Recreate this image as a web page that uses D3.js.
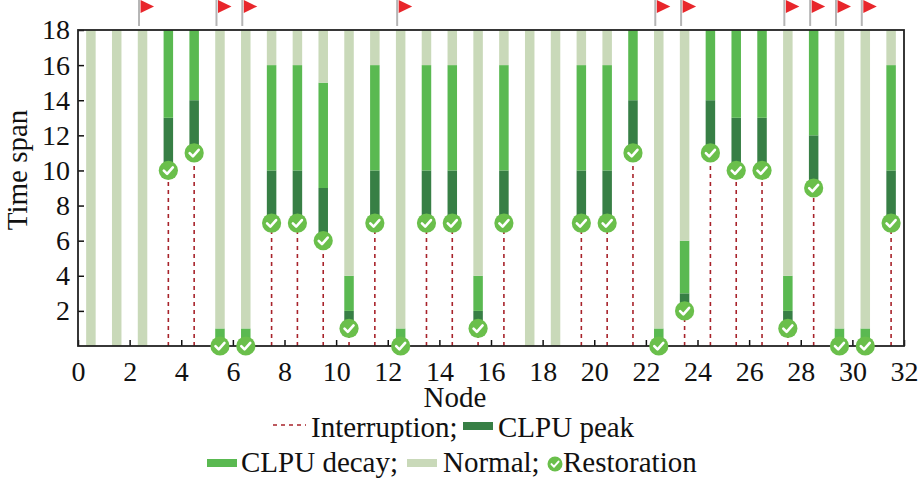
<!DOCTYPE html>
<html>
<head>
<meta charset="utf-8">
<script src="https://cdn.jsdelivr.net/npm/d3@7"></script>
<style>
  body { margin: 0; background: #fff; }
  svg text { font-family: "Liberation Serif", "Times New Roman", serif; fill: #111; }
</style>
</head>
<body>
<div id="chart"></div>
<script>
const width = 921,
    height = 483,
    margin = ({ top: 30, right: 17, bottom: 137, left: 78 });

// node ids and the time of each stage (null = node never interrupted)
const nodes = [1, 2, 3, 4, 5, 6, 7, 8, 9, 10, 11, 12, 13, 14, 15, 16,
               17, 18, 19, 20, 21, 22, 23, 24, 25, 26, 27, 28, 29, 30, 31, 32];
const restoreAt = [null, null, null, 10, 11, 0, 0, 7, 7, 6, 1, 7, 0, 7, 7, 1,
                   7, null, null, 7, 7, 11, 0, 2, 11, 10, 10, 1, 9, 0, 0, 7];
const peakEnd   = [null, null, null, 13, 14, 0, 0, 10, 10, 9, 2, 10, 0, 10, 10, 2,
                   10, null, null, 10, 10, 14, 0, 3, 14, 13, 13, 2, 12, 0, 0, 10];
const decayEnd  = [null, null, null, 18, 18, 1, 1, 16, 16, 15, 4, 16, 1, 16, 16, 4,
                   16, null, null, 16, 16, 18, 1, 6, 18, 18, 18, 4, 18, 1, 1, 16];
const flaggedNodes = [3, 6, 7, 13, 23, 24, 28, 29, 30, 31];
const xTicks = [0, 2, 4, 6, 8, 10, 12, 14, 16, 18, 20, 22, 24, 26, 28, 30, 32];
const yTicks = [2, 4, 6, 8, 10, 12, 14, 16, 18];
const maxSpan = 18;

const colors = {
    normal: "#c9d9b9",
    decay: "#5ab951",
    peak: "#377f45",
    restore: "#6abf4b",
    cut: "#a8232b"
};

const svg = d3.select("#chart")
    .append("svg")
    .attr("width", width)
    .attr("height", height);

let x = d3.scaleLinear()
    .domain([0, 32])
    .range([margin.left, width - margin.right]);

let y = d3.scaleLinear()
    .domain([0, maxSpan])
    .range([height - margin.bottom, margin.top]);

const barW = 9.5;

// build stacked segments per node
let segs = [];
nodes.forEach((n, i) => {
    let r = restoreAt[i];
    if (r === null) {
        segs.push({ n: n, y0: 0, y1: maxSpan, kind: "normal" });
        return;
    }
    segs.push({ n: n, y0: r, y1: peakEnd[i], kind: "peak" });
    segs.push({ n: n, y0: peakEnd[i], y1: decayEnd[i], kind: "decay" });
    if (decayEnd[i] < maxSpan) segs.push({ n: n, y0: decayEnd[i], y1: maxSpan, kind: "normal" });
});

svg.append("g")
    .selectAll("rect")
    .data(segs.filter(d => d.y1 > d.y0))
    .join("rect")
    .attr("x", d => x(d.n - 0.5) - barW / 2)
    .attr("width", barW)
    .attr("y", d => y(d.y1))
    .attr("height", d => y(d.y0) - y(d.y1))
    .attr("fill", d => colors[d.kind]);

// interruption lines
let restored = nodes.map((n, i) => ({ n: n, r: restoreAt[i] })).filter(d => d.r !== null);

svg.append("g")
    .selectAll("line")
    .data(restored.filter(d => d.r > 0))
    .join("line")
    .attr("x1", d => x(d.n - 0.5))
    .attr("x2", d => x(d.n - 0.5))
    .attr("y1", d => y(0))
    .attr("y2", d => y(d.r))
    .attr("stroke", colors.cut)
    .attr("stroke-width", 1.6)
    .attr("stroke-dasharray", "4,4");

// axes
svg.append("g")
    .attr("transform", `translate(0,${y(0)})`)
    .call(d3.axisBottom(x).tickValues(xTicks).tickSize(-6).tickPadding(15).tickSizeOuter(0))
    .call(g => g.select(".domain").remove())
    .call(g => g.selectAll("text").style("font-size", "28px"))
    .call(g => g.selectAll("line").attr("stroke", "#111").attr("stroke-width", 1.5));

svg.append("g")
    .attr("transform", `translate(${margin.left},0)`)
    .call(d3.axisLeft(y).tickValues(yTicks).tickSize(-6).tickPadding(8).tickSizeOuter(0))
    .call(g => g.select(".domain").remove())
    .call(g => g.selectAll("text").style("font-size", "28px"))
    .call(g => g.selectAll("line").attr("stroke", "#111").attr("stroke-width", 1.5));

svg.append("rect")
    .attr("x", x(0))
    .attr("y", y(maxSpan))
    .attr("width", x(32) - x(0))
    .attr("height", y(0) - y(maxSpan))
    .attr("fill", "none")
    .attr("stroke", "#222")
    .attr("stroke-width", 1.8);

// restoration markers
function checkMark(g, r) {
    g.append("circle").attr("r", r).attr("fill", colors.restore);
    g.append("path")
        .attr("d", `M${-r * 0.47},${r * 0.02} L${-r * 0.13},${r * 0.36} L${r * 0.47},${-r * 0.32}`)
        .attr("fill", "none")
        .attr("stroke", "#fff")
        .attr("stroke-width", r * 0.27)
        .attr("stroke-linecap", "round")
        .attr("stroke-linejoin", "round");
}

svg.append("g")
    .selectAll("g")
    .data(restored)
    .join("g")
    .attr("transform", d => `translate(${x(d.n - 0.5)},${y(d.r)})`)
    .each(function() { checkMark(d3.select(this), 9.6); });

// flags above the frame
let flags = svg.append("g")
    .selectAll("g")
    .data(flaggedNodes)
    .join("g")
    .attr("transform", d => `translate(${x(d - 0.5) - 3.5},0)`);
flags.append("line")
    .attr("x1", 0).attr("x2", 0)
    .attr("y1", 0).attr("y2", 26)
    .attr("stroke", "#b5b5b5")
    .attr("stroke-width", 2);
flags.append("path")
    .attr("d", "M1.5,0 L1.5,13 L15,6.5 Z")
    .attr("fill", "#e8262b");

// axis titles
svg.append("text")
    .attr("x", 455)
    .attr("y", 407)
    .attr("text-anchor", "middle")
    .style("font-size", "29px")
    .text("Node");

svg.append("text")
    .attr("transform", "rotate(-90)")
    .attr("x", -170)
    .attr("y", 27)
    .attr("text-anchor", "middle")
    .style("font-size", "29px")
    .text("Time span");

// legend
let leg = svg.append("g").style("font-size", "29px");
leg.append("line")
    .attr("x1", 273).attr("x2", 306)
    .attr("y1", 425).attr("y2", 425)
    .attr("stroke", colors.cut).attr("stroke-width", 1.6)
    .attr("stroke-dasharray", "4,4");
leg.append("text").attr("x", 311).attr("y", 437).text("Interruption;");
leg.append("rect").attr("x", 463).attr("y", 422).attr("width", 30).attr("height", 8).attr("fill", colors.peak);
leg.append("text").attr("x", 498).attr("y", 437).text("CLPU peak");

leg.append("rect").attr("x", 207).attr("y", 459).attr("width", 30).attr("height", 8).attr("fill", colors.decay);
leg.append("text").attr("x", 241).attr("y", 472).text("CLPU decay;");
leg.append("rect").attr("x", 407).attr("y", 459).attr("width", 30).attr("height", 8).attr("fill", colors.normal);
leg.append("text").attr("x", 443).attr("y", 472).text("Normal;");
leg.append("g")
    .attr("transform", "translate(555,464)")
    .each(function() { checkMark(d3.select(this), 7.5); });
leg.append("text").attr("x", 563).attr("y", 472).text("Restoration");
</script>
</body>
</html>
